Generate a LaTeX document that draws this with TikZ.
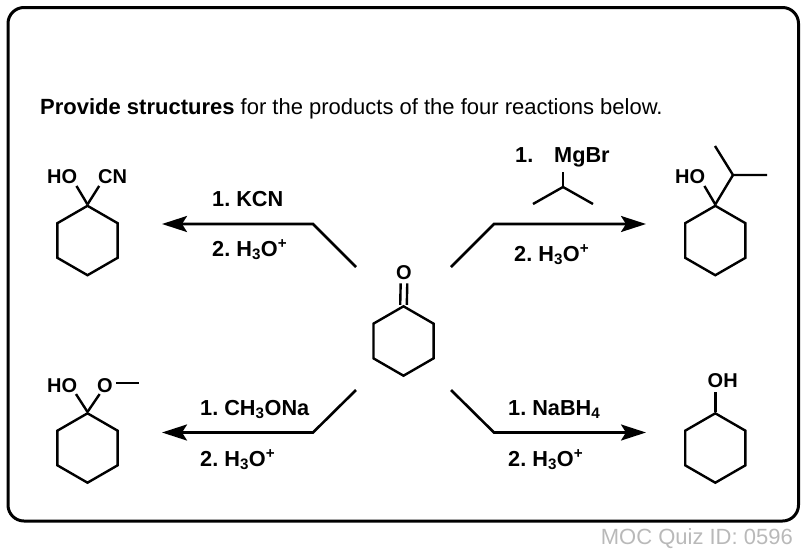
\documentclass[tikz,border=0pt]{standalone}
\usepackage{fontspec}
\setmainfont{Liberation Sans}
\usetikzlibrary{arrows.meta,shapes.geometric}
\frenchspacing

\tikzset{
  ring/.style={draw, regular polygon, regular polygon sides=6, shape border rotate=30, minimum size=69.4pt, inner sep=0pt, line width=2.4pt},
  bond/.style={line width=2.4pt},
  rxn/.style={line width=2.6pt, line join=miter, -{Stealth[length=25pt,width=16pt,inset=5pt]}},
  chem/.style={anchor=base west, inner sep=0pt, font=\fontsize{20}{24}\selectfont\bfseries},
  reagent/.style={anchor=base west, inner sep=0pt, font=\fontsize{21.7}{26}\selectfont\bfseries}
}
\newcommand{\hydronium}{2. H\textsubscript{3}O\textsuperscript{+}}

\begin{document}
\begin{tikzpicture}[x=1pt,y=-1pt]
\useasboundingbox (0,0) rectangle (806,550);

\draw[line width=3pt, rounded corners=16pt] (8,7.5) rectangle (798.5,521);
\node[anchor=base west, inner sep=0pt, font=\fontsize{22}{26}\selectfont] (title) at (40,114) {\textbf{Provide structures} for the products of the four reactions below.};
\node[anchor=base east, inner sep=0pt, text=gray!55, font=\fontsize{22}{26}\selectfont] (quiz) at (793,544) {MOC Quiz ID: 0596};

% starting ketone
\node[ring] (ketone) at (403.5,341) {};
\node[chem] (ketoneO) at (396,279) {O};
\draw[bond] ([xshift=-3.3pt]ketone.corner 1) -- ([xshift=-3.3pt,yshift=-4pt]ketoneO.south);
\draw[bond] ([xshift=3.3pt]ketone.corner 1) -- ([xshift=3.3pt,yshift=-4pt]ketoneO.south);

% top left
\node[ring] (ringa) at (87.5,240.5) {};
\node[chem] (hoa) at (47,183) {HO};
\node[chem] (cna) at (98,183) {CN};
\draw[bond,shorten >=3pt] (ringa.corner 1) -- ([xshift=-2.5pt]hoa.south east);
\draw[bond,shorten >=3pt] (ringa.corner 1) -- ([xshift=2.8pt]cna.south west);

\coordinate (starta) at (356,267);
\coordinate (benda) at (313,224);
\coordinate (tipa) at (162,224);
\draw[rxn] (starta) -- (benda) -- (tipa);
\node[reagent] (kcn) at (212,206) {1. KCN};
\node[reagent] (acida) at (212,256) {\hydronium};

% top right
\node[ring] (ringb) at (715.3,240.5) {};
\node[chem] (hob) at (675,183) {HO};
\coordinate (ipr) at (733,175);
\coordinate (ipra) at (715,146);
\coordinate (iprb) at (767,175);
\draw[bond,shorten >=3pt] (ringb.corner 1) -- ([xshift=-2.5pt]hob.south east);
\draw[bond] (ringb.corner 1) -- (ipr);
\draw[bond] (ipra) -- (ipr) -- (iprb);

\coordinate (startb) at (451,267);
\coordinate (bendb) at (494,224);
\coordinate (tipb) at (646,224);
\draw[rxn] (startb) -- (bendb) -- (tipb);
\node[reagent] (oneb) at (515,162) {1.};
\node[reagent] (mgbr) at (554,162) {MgBr};
\coordinate (grigb) at (563,187);
\coordinate (griga) at (533,204);
\coordinate (grigc) at (593,204);
\draw[bond,shorten >=5pt] (grigb) -- (mgbr.south -| grigb);
\draw[bond] (griga) -- (grigb) -- (grigc);
\node[reagent] (acidb) at (514,261) {\hydronium};

% bottom left
\node[ring] (ringc) at (87.5,448) {};
\node[chem] (hoc) at (47,392) {HO};
\node[chem] (meo) at (97,392) {O};
\coordinate (me) at (139,383);
\draw[bond,shorten >=2pt] (ringc.corner 1) -- ([xshift=-2.5pt]hoc.south east);
\draw[bond,shorten >=2pt] (ringc.corner 1) -- ([xshift=3.8pt]meo.south west);
\draw[bond] (meo.east |- me) ++(3,0) -- (me);

\coordinate (startc) at (356,390);
\coordinate (bendc) at (313,432.5);
\coordinate (tipc) at (162,432.5);
\draw[rxn] (startc) -- (bendc) -- (tipc);
\node[reagent] (meona) at (200,415) {1. CH\textsubscript{3}ONa};
\node[reagent] (acidc) at (200,466) {\hydronium};

% bottom right
\node[ring] (ringd) at (715.3,448) {};
\node[chem] (oh) at (707.5,387) {OH};
\draw[bond,shorten >=5pt] (ringd.corner 1) -- (oh.south -| ringd.corner 1);

\coordinate (startd) at (451,390);
\coordinate (bendd) at (494,432.5);
\coordinate (tipd) at (646,432.5);
\draw[rxn] (startd) -- (bendd) -- (tipd);
\node[reagent] (nabh) at (508,415) {1. NaBH\textsubscript{4}};
\node[reagent] (acidd) at (508,466) {\hydronium};
\end{tikzpicture}
\end{document}
